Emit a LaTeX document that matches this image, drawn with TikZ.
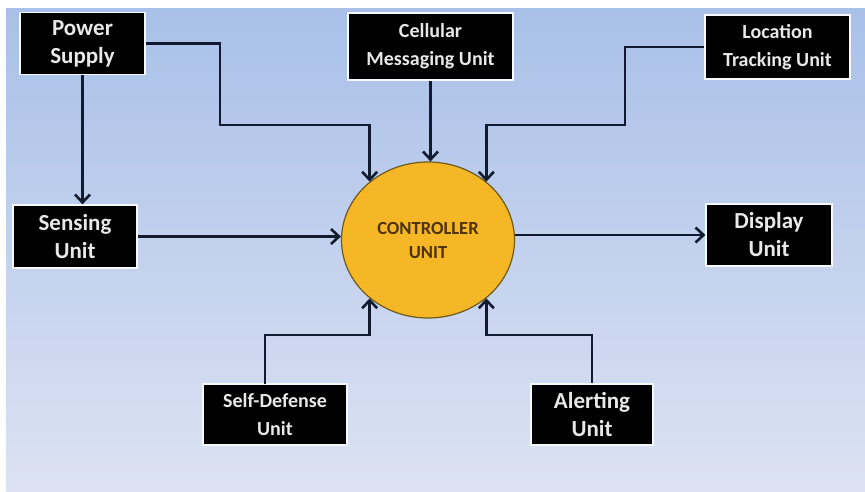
\documentclass[tikz,border=0pt]{standalone}
\usepackage{fontspec}
\setmainfont{Carlito}
\usetikzlibrary{arrows.meta,shapes.geometric}
\definecolor{bgtop}{HTML}{A9C0E8}
\definecolor{bgbot}{HTML}{DCE2F3}
\definecolor{linec}{HTML}{111A2E}
\definecolor{gold}{HTML}{F6B726}
\definecolor{goldedge}{HTML}{6E5A1A}
\definecolor{ctrltext}{HTML}{4E320A}
\definecolor{boxtext}{HTML}{E8E8E8}
\tikzset{
  unitbox/.style={rectangle, fill=black, draw=white!90!bgtop, line width=1.2pt,
    text=boxtext, align=center, inner sep=0pt, font=\bfseries},
  bigtxt/.style={font=\bfseries\fontsize{23}{28}\selectfont},
  smalltxt/.style={font=\bfseries\fontsize{20}{28}\selectfont},
  conn/.style={draw=linec, line width=2.6pt, line join=miter},
  arr/.style={conn, -{Straight Barb[length=8pt,width=15pt,line width=2.6pt]}}
}
\begin{document}
\begin{tikzpicture}[x=1pt,y=-1pt]
\useasboundingbox (0,0) rectangle (865,491);
\fill[white] (0,0) rectangle (865,491);
\shade[top color=bgtop, bottom color=bgbot] (6,8) rectangle (865,491);

\node[unitbox, bigtxt, minimum width=125pt, minimum height=62pt] (power) at (82.5,43.5) {Power\\Supply};
\node[unitbox, smalltxt, minimum width=165pt, minimum height=67pt] (cell) at (430.5,46.5) {Cellular\\Messaging Unit};
\node[unitbox, smalltxt, minimum width=145pt, minimum height=64pt] (loc) at (777.5,47) {Location\\Tracking Unit};
\node[unitbox, bigtxt, minimum width=124pt, minimum height=63pt] (sense) at (75,236.5) {Sensing\\Unit};
\node[unitbox, bigtxt, minimum width=126pt, minimum height=62pt] (disp) at (769,235) {Display\\Unit};
\node[unitbox, smalltxt, minimum width=144pt, minimum height=61pt] (self) at (275,414.5) {Self-Defense\\Unit};
\node[unitbox, bigtxt, minimum width=122pt, minimum height=61pt] (alert) at (592,414.5) {Alerting\\Unit};

\node[ellipse, fill=gold, draw=goldedge, line width=1.2pt, minimum width=173pt, minimum height=156pt,
  inner sep=0pt, align=center, text=ctrltext, font=\bfseries\fontsize{18.5}{24}\selectfont] (ctrl) at (428,240) {CONTROLLER\\UNIT};

\coordinate (pbend) at (220,125);
\coordinate (lbend) at (625,125);
\coordinate (sbend) at (265,335);
\coordinate (abend) at (592,335);
\coordinate (sstart) at (265,384);

\draw[arr] (power.east) -| (pbend) -| (ctrl.135);
\draw[arr] (power.south) -- (power.south |- sense.north);
\draw[arr] (cell.south) -- (cell.south |- ctrl.north);
\draw[arr] (loc.west) -| (lbend) -| (ctrl.45);
\draw[arr] (sense.east) -- (sense.east -| ctrl.west);
\draw[arr] (ctrl.east |- disp.west) -- (disp.west);
\draw[arr] (sstart) -- (sbend) -| (ctrl.225);
\draw[arr] (alert.north) -- (abend) -| (ctrl.315);
\end{tikzpicture}
\end{document}
